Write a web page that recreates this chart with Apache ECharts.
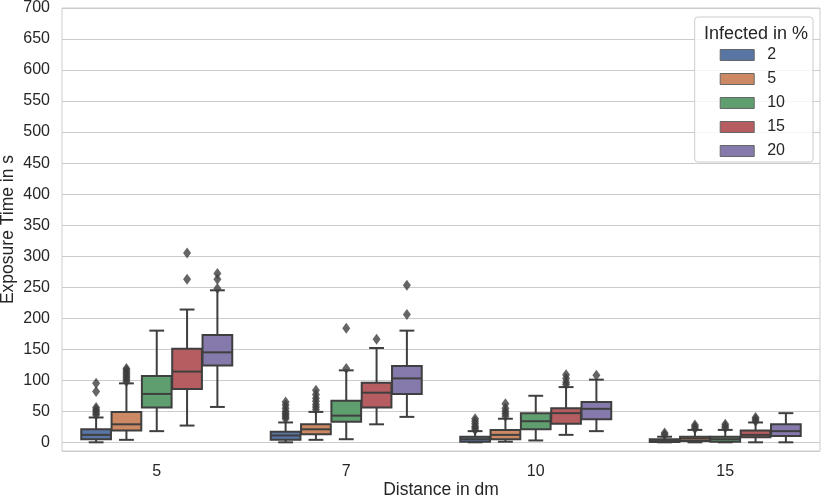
<!DOCTYPE html>
<html>
<head>
<meta charset="utf-8">
<script src="https://cdn.jsdelivr.net/npm/echarts@6/dist/echarts.min.js"></script>
<style>
  html, body { margin: 0; padding: 0; background: #fff; }
  #chart { width: 830px; height: 502px; }
</style>
</head>
<body>
<div id="chart"></div>
<script>
// categories
const distances = ['5', '7', '10', '15'];
const infected = ['2', '5', '10', '15', '20'];
const colors = ['#5975a4', '#cc8963', '#5f9e6e', '#b55d60', '#857aab'];

// box stats per distance: [low, q1, median, q3, high]
const box2 = [[0, 5, 12, 21, 40], [0, 4, 11, 17, 32], [0, 1, 5, 9, 18], [0, 0.5, 2, 5, 9]];
const box5 = [[4, 19, 29, 49, 95], [4, 13, 21, 29, 49], [1, 5, 12, 20, 38], [0, 2, 6, 9, 20]];
const box10 = [[18, 56, 78, 107, 180], [5, 33, 43, 67, 116], [3, 21, 34, 47, 75], [0, 1, 5, 9, 20]];
const box15 = [[27, 86, 114, 151, 214], [29, 56, 80, 96, 152], [12, 30, 47, 55, 89], [0, 8, 12, 19, 32]];
const box20 = [[57, 124, 145, 173, 245], [41, 78, 103, 123, 180], [18, 37, 54, 65, 101], [0, 10, 18, 29, 47]];

// outliers per distance
const out2 = [[44, 47, 50, 53, 56, 82, 95], [38, 41, 44, 47, 50, 55, 60, 65], [20, 23, 26, 30, 34, 38], [12, 15]];
const out5 = [[98, 101, 104, 107, 110, 113, 116, 119], [53, 57, 61, 66, 71, 77, 84], [42, 46, 50, 55, 62], [22, 25, 28]];
const out10 = [[], [119, 184], [], [23, 26, 29]];
const out15 = [[263, 305], [166], [93, 97, 103, 109], [34, 37, 40]];
const out20 = [[248, 263, 272], [206, 253], [108], []];

const yTicks = [0, 50, 100, 150, 200, 250, 300, 350, 400, 450, 500, 550, 600, 650, 700];

const boxes = [box2, box5, box10, box15, box20];
const outs = [out2, out5, out10, out15, out20];

const lineColor = '#3f3f3f';
const textColor = '#262626';
const font = 'Liberation Sans, Arial, sans-serif';
const hueStep = 0.16;
const boxW = hueStep * 0.98;

function renderBox(params, api) {
  let x = api.value(0);
  let low = api.coord([x, api.value(1)]);
  let q1 = api.coord([x, api.value(2)]);
  let med = api.coord([x, api.value(3)]);
  let q3 = api.coord([x, api.value(4)]);
  let high = api.coord([x, api.value(5)]);
  let w = api.size([boxW, 0])[0];
  let cx = low[0];
  let line = {stroke: lineColor, lineWidth: 2};
  return {
    type: 'group',
    children: [
      {type: 'line', shape: {x1: cx, y1: q3[1], x2: cx, y2: high[1]}, style: line},
      {type: 'line', shape: {x1: cx, y1: q1[1], x2: cx, y2: low[1]}, style: line},
      {type: 'line', shape: {x1: cx - w / 4, y1: high[1], x2: cx + w / 4, y2: high[1]}, style: line},
      {type: 'line', shape: {x1: cx - w / 4, y1: low[1], x2: cx + w / 4, y2: low[1]}, style: line},
      {type: 'rect', shape: {x: cx - w / 2, y: q3[1], width: w, height: q1[1] - q3[1]},
        style: {fill: api.visual('color'), stroke: lineColor, lineWidth: 2}},
      {type: 'line', shape: {x1: cx - w / 2, y1: med[1], x2: cx + w / 2, y2: med[1]}, style: line}
    ]
  };
}

let series = [];
infected.forEach(function (name, h) {
  let off = (h - 2) * hueStep;
  series.push({
    name: name,
    type: 'custom',
    xAxisIndex: 1,
    itemStyle: {color: colors[h]},
    renderItem: renderBox,
    encode: {x: 0, y: [1, 2, 3, 4, 5]},
    data: boxes[h].map((b, g) => [g + off].concat(b)),
    z: 3
  });
  let pts = [];
  outs[h].forEach((list, g) => list.forEach(v => pts.push([g + off, v])));
  series.push({
    type: 'scatter',
    xAxisIndex: 1,
    symbol: 'diamond',
    symbolSize: [8, 11],
    itemStyle: {color: lineColor},
    data: pts,
    silent: true,
    z: 4
  });
});

let chart = echarts.init(document.getElementById('chart'));
chart.setOption({
  animation: false,
  textStyle: {fontFamily: font},
  grid: {
    left: 62, right: 10, top: 8, bottom: 51, show: true,
    borderColor: '#cccccc', borderWidth: 1,
    outerBoundsMode: 'none', containLabel: false
  },
  title: {
    text: 'Infected in %', left: 751, top: 20, textAlign: 'center', z: 10,
    textStyle: {fontFamily: font, fontSize: 18, fontWeight: 'normal', color: textColor}
  },
  legend: {
    data: infected,
    orient: 'vertical',
    right: 17, top: 17,
    padding: [30, 28, 3, 25],
    itemWidth: 34, itemHeight: 11, itemGap: 8,
    icon: 'rect',
    backgroundColor: 'rgba(255,255,255,0.8)',
    borderColor: '#cccccc', borderWidth: 1, borderRadius: 3,
    itemStyle: {borderColor: '#666', borderWidth: 1},
    textStyle: {fontFamily: font, fontSize: 16, color: textColor, padding: [0, 0, 0, 8]}
  },
  xAxis: [{
    type: 'category',
    data: distances,
    name: 'Distance in dm',
    nameLocation: 'middle',
    nameGap: 30,
    nameMoveOverlap: false,
    nameTextStyle: {fontFamily: font, fontSize: 17.5, color: textColor},
    axisLine: {show: false},
    axisTick: {show: false},
    axisLabel: {fontFamily: font, fontSize: 16, color: textColor, margin: 13}
  }, {
    type: 'value',
    min: -0.5, max: 3.5,
    show: false
  }],
  yAxis: {
    type: 'value',
    min: -14, max: 700,
    splitNumber: 14,
    name: 'Exposure Time in s',
    nameLocation: 'middle',
    nameGap: 45,
    nameMoveOverlap: false,
    nameTextStyle: {fontFamily: font, fontSize: 17.5, color: textColor},
    axisLine: {show: false},
    axisTick: {show: false},
    axisLabel: {
      fontFamily: font, fontSize: 16, color: textColor, margin: 12,
      formatter: v => yTicks.indexOf(v) >= 0 ? String(v) : ''
    },
    splitLine: {lineStyle: {color: '#cccccc', width: 1}}
  },
  series: series
});
</script>
</body>
</html>
